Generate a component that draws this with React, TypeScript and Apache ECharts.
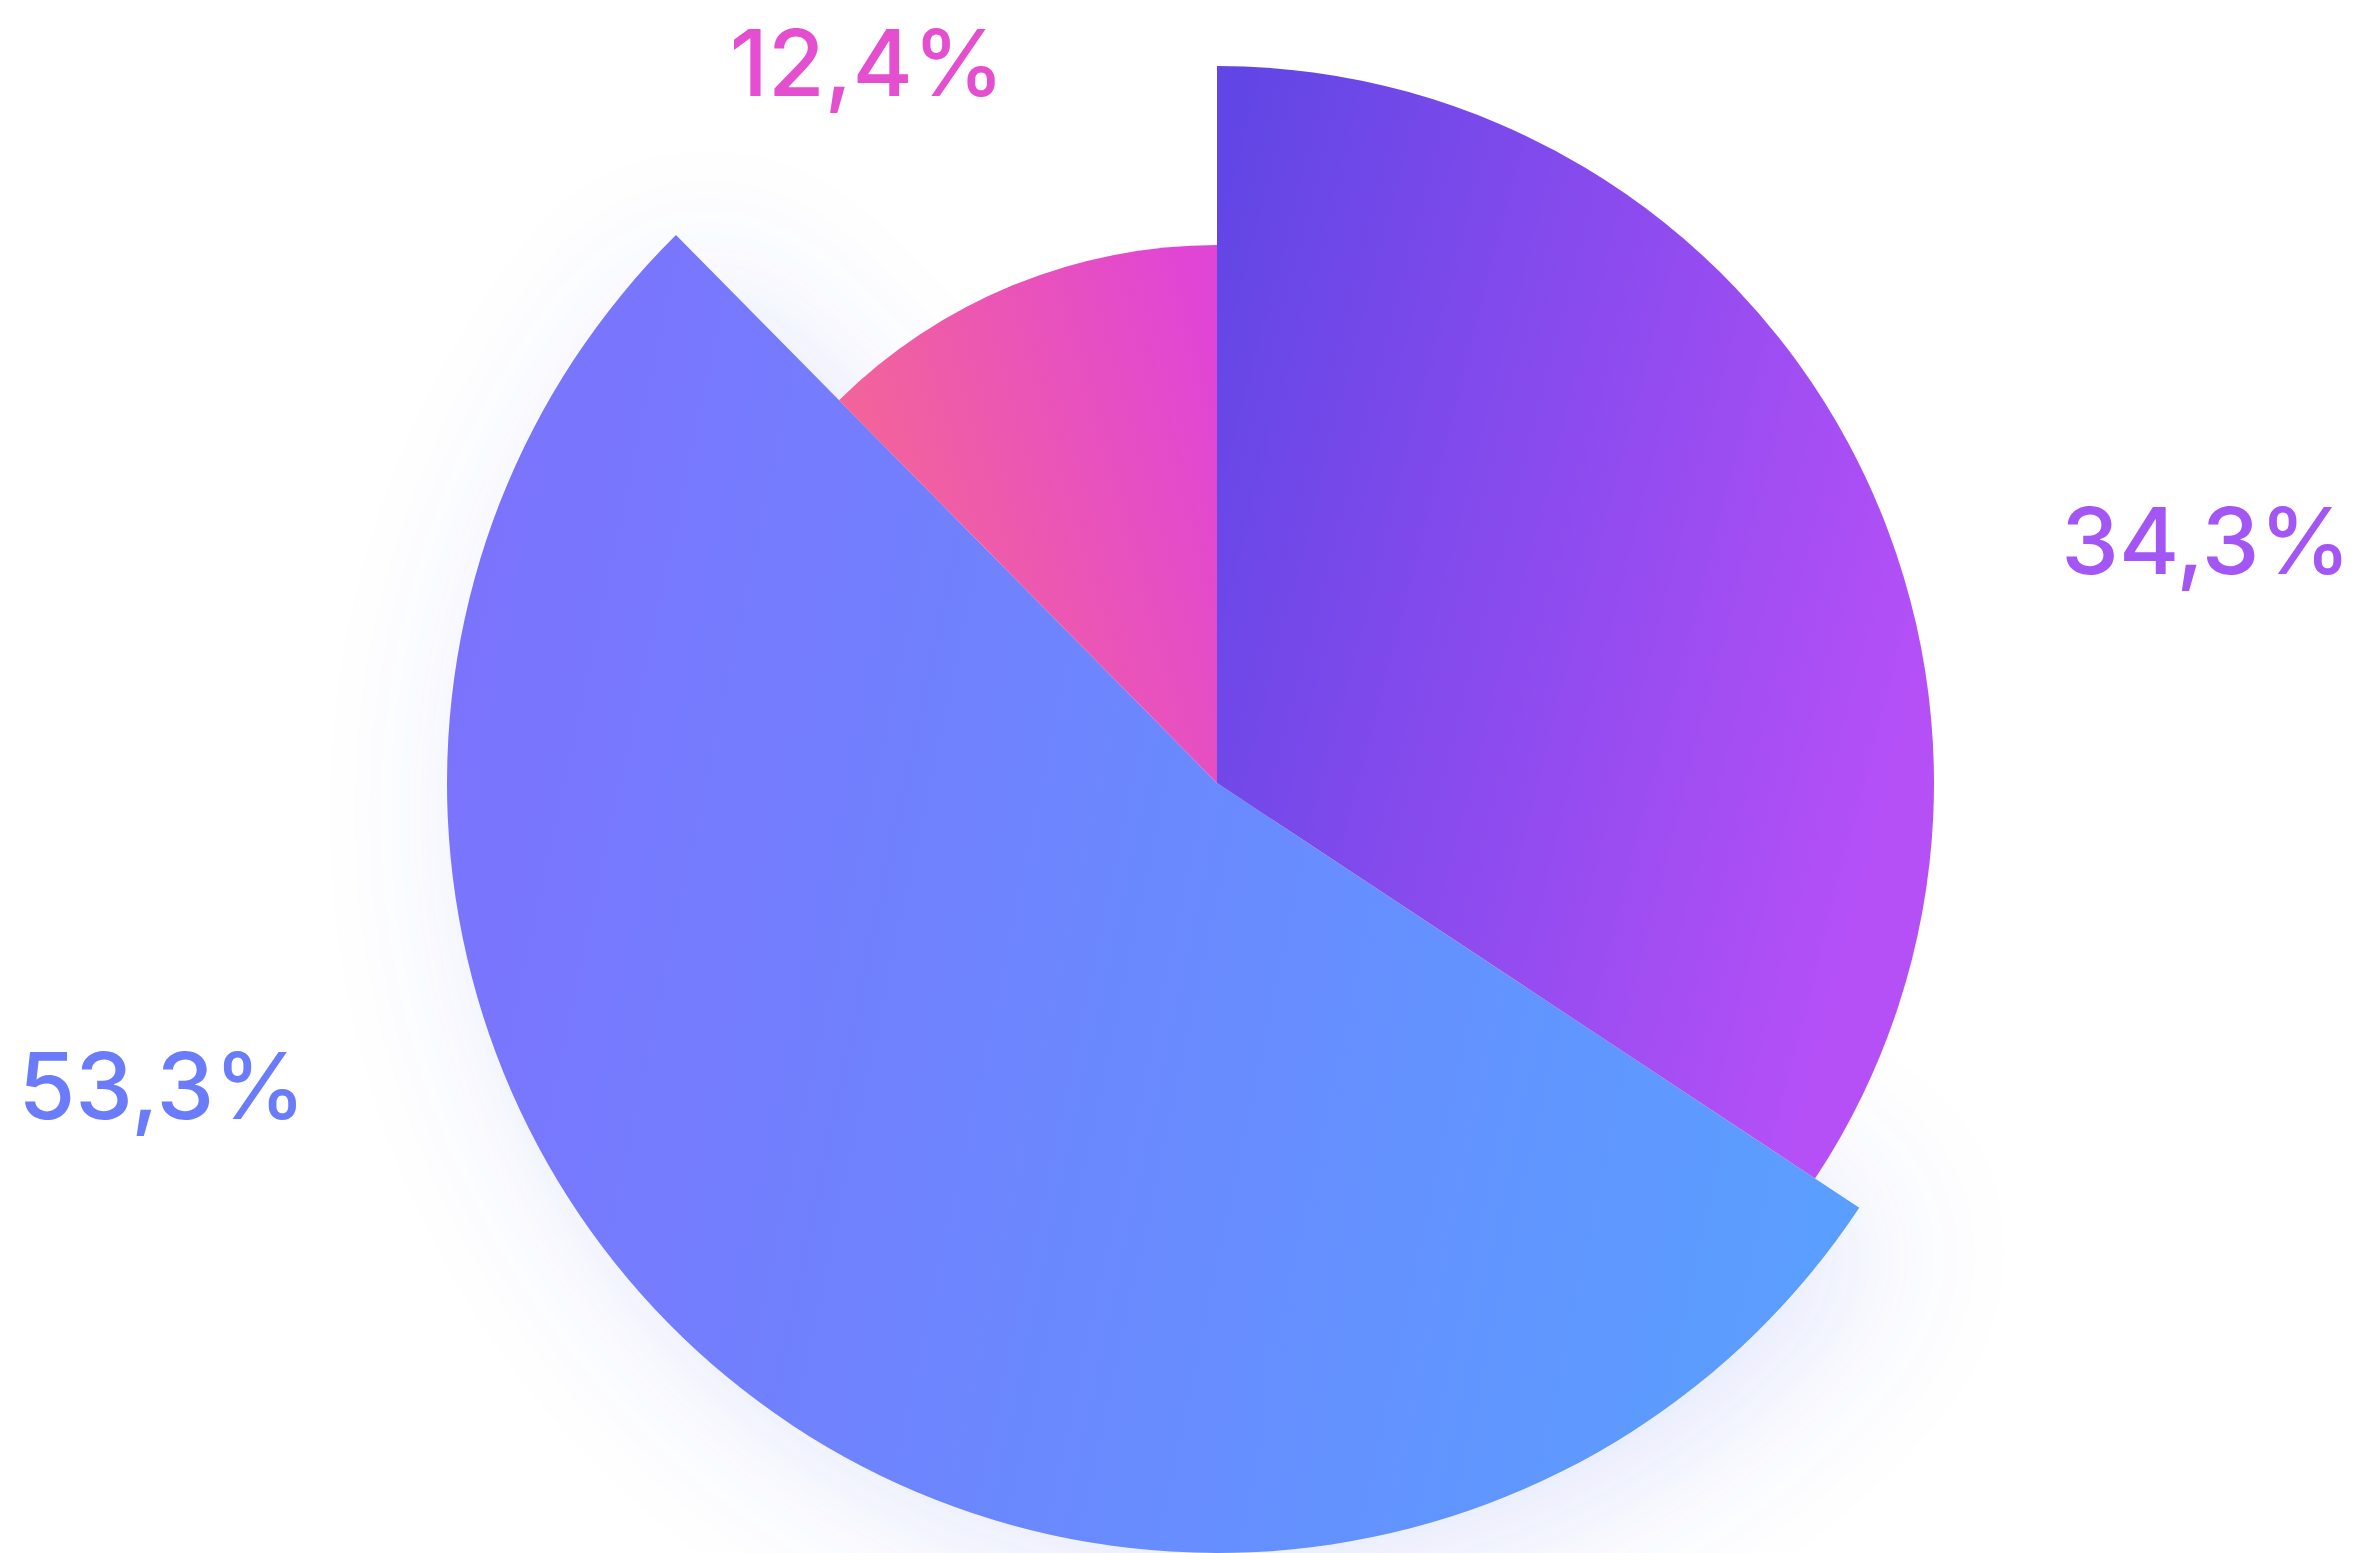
import React, { useEffect, useRef } from "react";
import * as echarts from "echarts";

// ---- data ----
const categories = ["Segment A", "Segment B", "Segment C"];
const values = [34.3, 53.3, 12.4];

// ---- layout & style (not data) ----
const CENTER = [1217, 783];
const sliceRadius = [717, 770, 538];
const drawOrder = [1, 0, 2]; // blue underneath, so its glow is hidden by the others
const gradients = [
  { x: 0, y: 0.1, x2: 1, y2: 0.5, from: "#6146e5", to: "#b550f7" },
  { x: 0, y: 0.4, x2: 1, y2: 0.6, from: "#7b73fd", to: "#5a9eff" },
  { x: 0, y: 0.6, x2: 1, y2: 0.2, from: "#f66890", to: "#e045d6" },
];
const labelColors = ["#a456f5", "#6b7cfb", "#e44fd0"];
const labelAnchors = [
  [2206, 540],
  [162, 1085],
  [867, 62],
];

const fmt = (v: number) => v.toFixed(1).replace(".", ",") + "%";

export default function App() {
  const ref = useRef<HTMLDivElement>(null);
  useEffect(() => {
    if (!ref.current) return;
    const chart = echarts.init(ref.current, undefined, { renderer: "svg" });
    const series = drawOrder.map((i) => {
      const g = gradients[i];
      return {
        type: "pie",
        name: categories[i],
        center: CENTER,
        radius: [0, sliceRadius[i]],
        startAngle: 90,
        clockwise: true,
        silent: true,
        z: 2,
        labelLine: { show: false },
        labelLayout: () => ({
          x: labelAnchors[i][0],
          y: labelAnchors[i][1],
          align: "center",
          verticalAlign: "middle",
        }),
        data: values.map((v, j) => ({
          name: categories[j],
          value: v,
          itemStyle:
            j === i
              ? {
                  color: new echarts.graphic.LinearGradient(g.x, g.y, g.x2, g.y2, [
                    { offset: 0, color: g.from },
                    { offset: 1, color: g.to },
                  ]),
                  ...(i === 1
                    ? {
                        shadowBlur: 150,
                        shadowColor: "rgba(80,105,235,0.16)",
                        shadowOffsetX: 30,
                        shadowOffsetY: 30,
                      }
                    : {}),
                }
              : { color: "rgba(0,0,0,0)" },
          label: {
            show: j === i,
            formatter: () => fmt(v),
            color: labelColors[j],
            fontFamily: "Inter, 'Noto Sans', sans-serif",
            fontWeight: 500,
            fontSize: 92,
          },
        })),
      };
    });
    chart.setOption({
      animation: false,
      backgroundColor: "#ffffff",
      series,
    } as any);
    return () => chart.dispose();
  }, []);
  return (
    <div
      ref={ref}
      style={{ position: "absolute", left: 0, top: 0, width: 2361, height: 1553 }}
    />
  );
}
